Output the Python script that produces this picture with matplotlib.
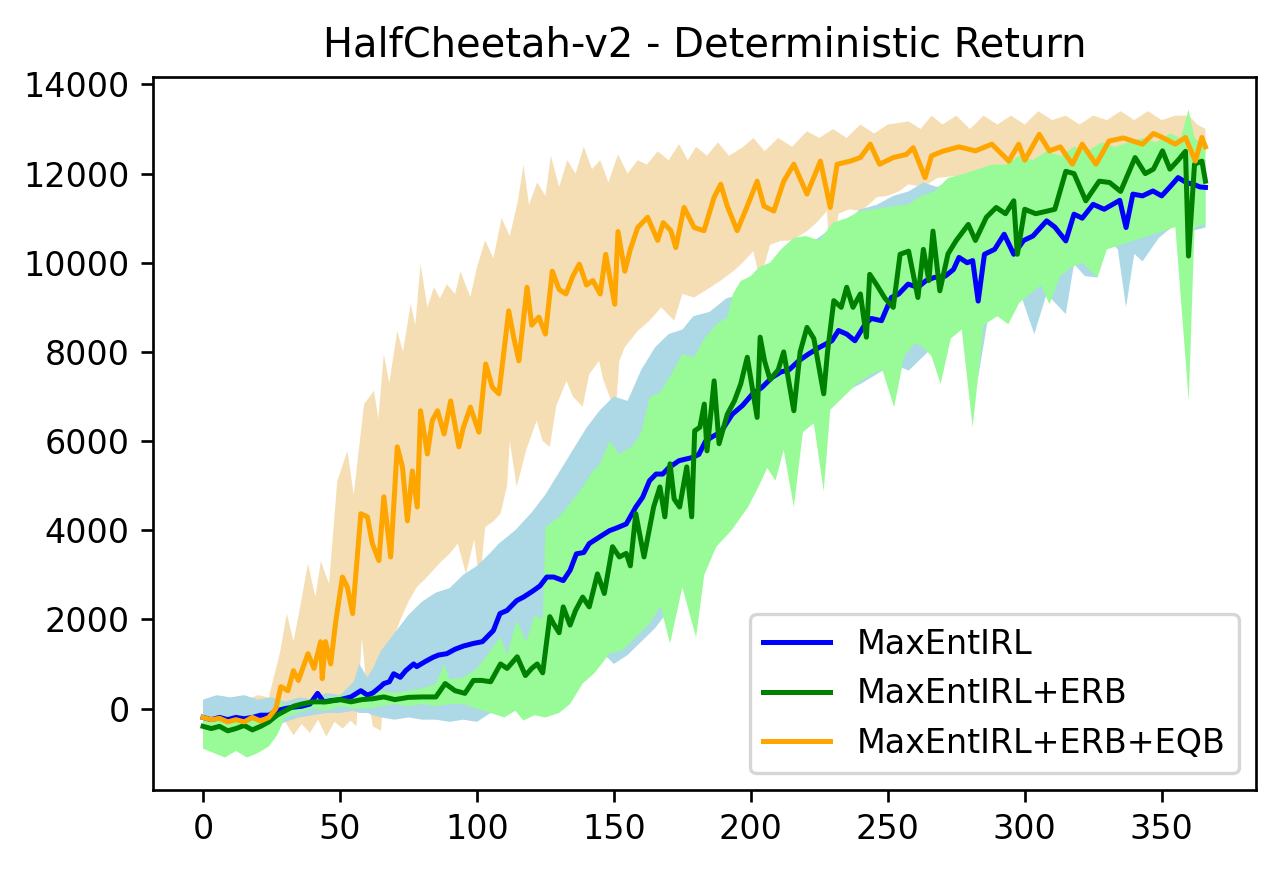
import numpy as np
from matplotlib import pyplot as plt

# ---- MaxEntIRL (blue) ----
x_irl = [0, 3, 6, 9, 12, 15, 18, 21, 24, 27, 30, 33, 36, 39, 41.8, 44, 47, 50, 54, 57.6, 60, 62, 64.8,
         66, 68, 69.6, 72, 74, 76.9, 78, 81, 84, 86, 89, 92, 95, 98.7, 102, 106, 108.4, 111, 114.5, 117,
         120.5, 123, 125.5, 128, 131.5, 134, 136.3, 139, 141, 144.8, 148.4, 151, 154.5, 158, 160.5, 163,
         165.4, 167.8, 170, 173.8, 178.6, 181, 183.5, 186, 189, 193.2, 197, 200.5, 204, 207.8, 211, 214,
         217.5, 221, 225, 229.6, 232, 235, 238, 241.7, 244, 247.7, 251.3, 254, 257.4, 261, 264, 267, 271,
         274, 276, 279, 281, 283, 285.3, 289, 292.5, 296, 299.6, 303, 308, 311, 315, 318, 321, 325, 329,
         334.7, 337, 339.5, 343, 346.8, 350, 353, 356, 359, 362, 364, 366]
m_irl = [-200, -250, -200, -250, -200, -230, -200, -150, -150, -50, 0, 30, 50, 100, 340, 150, 180, 200,
         260, 400, 300, 350, 490, 560, 600, 780, 700, 850, 1000, 940, 1050, 1150, 1200, 1230, 1330, 1400,
         1460, 1500, 1750, 2130, 2200, 2420, 2500, 2640, 2750, 2950, 2950, 2870, 3100, 3470, 3500, 3700,
         3850, 3990, 4050, 4140, 4520, 4740, 5110, 5260, 5260, 5400, 5560, 5630, 5700, 6000, 6100, 6200,
         6600, 6800, 7050, 7200, 7430, 7550, 7600, 7800, 7950, 8100, 8250, 8480, 8400, 8250, 8620, 8750,
         8700, 9220, 9300, 9520, 9450, 9600, 9670, 9700, 9850, 10120, 10000, 10050, 9140, 10190, 10300,
         10640, 10190, 10500, 10600, 10940, 10800, 10490, 11090, 11000, 11310, 11200, 11400, 10790, 11540,
         11500, 11610, 11500, 11700, 11910, 11800, 11750, 11700, 11690]

xb_irl = [0, 5, 10, 15, 20, 25, 30, 35, 40, 45, 50, 55, 57, 60, 62, 65, 70, 75, 80, 85, 90, 95, 100,
          105, 108, 110, 114, 120, 125, 130, 135, 140, 145, 150, 155, 160, 165, 170, 175, 179, 185, 191,
          197, 203, 209, 215.7, 221, 227.8, 234, 240, 246, 252, 257.6, 263, 268, 275, 280, 283, 287, 294,
          299, 303.5, 308, 315, 318, 322, 326.5, 330.8, 334, 337, 340, 343, 349, 355, 360, 366]
hi_irl = [200, 300, 250, 300, 200, 250, 150, 250, 200, 350, 300, 600, 1000, 700, 900, 1300, 1700, 2100,
          2400, 2600, 2700, 3000, 3200, 3500, 3700, 3800, 4000, 4400, 4800, 5300, 5800, 6300, 6700, 7000,
          6900, 7600, 8100, 8400, 8500, 8800, 8900, 9200, 9300, 9900, 10000, 10300, 10400, 10700, 10900,
          11200, 11300, 11500, 11600, 11800, 11700, 11900, 11900, 12000, 12100, 12200, 12100, 12300,
          12200, 12400, 12300, 12500, 12400, 12400, 12500, 12300, 12600, 12400, 12500, 12400, 12400, 12300]
lo_irl = [-700, -600, -650, -550, -600, -450, -300, -200, -150, -100, -100, -50, -100, -100, -150, -200,
          -250, -200, -250, -250, -300, -250, -300, -100, 180, 300, 560, 800, 1100, 1300, 1500, 1300, 1300,
          1000, 1200, 1500, 1800, 2200, 2800, 3250, 3700, 4440, 4800, 5490, 5700, 6090, 6500, 6990, 7100,
          7280, 7500, 7730, 7580, 7900, 8200, 8920, 8700, 7430, 8900, 9300, 9200, 8400, 9300, 8850, 9970,
          9700, 9670, 10490, 10300, 9000, 10200, 10030, 10560, 10860, 10700, 10790]

# ---- MaxEntIRL+ERB (green) ----
x_erb = [0, 3, 6, 9, 12, 15, 18, 21, 24, 27, 30, 33, 36, 40, 45, 50, 54, 58, 62, 66, 70, 75, 80, 85,
         88.4, 92, 95.6, 98.7, 101.7, 105, 108.6, 111, 114.7, 117.7, 120, 122, 124, 126.6, 128, 130,
         131.5, 134, 136, 138.6, 141, 144, 146.5, 149.5, 152, 154.5, 156, 158, 161, 164.5, 166.8, 168.6,
         170.5, 172, 174, 176.6, 178.4, 179.5, 181.4, 183, 184, 186.6, 188.4, 191.4, 194, 196.3, 198.7,
         200.5, 202.3, 203.4, 205, 207, 210, 212, 215.7, 218, 220.5, 223, 226.6, 228, 230.3, 233, 235,
         237.3, 240, 242.2, 243.4, 246, 249, 252, 254.5, 257.6, 261, 263, 265, 266.5, 269, 272, 275, 279.4,
         282, 286, 289.6, 293, 296, 297.3, 300, 304, 307.6, 311, 315, 318, 322.3, 327.2, 331, 335, 340.3,
         344, 347, 350.3, 353, 356, 358.7, 359.8, 362, 364.7, 366]
m_erb = [-400, -450, -400, -500, -450, -380, -480, -400, -300, -150, -50, 50, 100, 150, 150, 200, 150,
         200, 220, 260, 200, 250, 260, 260, 560, 400, 340, 630, 630, 600, 1000, 900, 1160, 740, 900, 1000,
         800, 2060, 1900, 1700, 2280, 1870, 2200, 2500, 2280, 3020, 2580, 3630, 3400, 3480, 3200, 4370,
         3400, 4520, 4970, 4300, 5490, 4700, 4520, 5420, 4300, 6230, 6310, 6830, 5780, 7350, 5940, 6600,
         6900, 7280, 7880, 7200, 6530, 8330, 7800, 7380, 7600, 8000, 6680, 8000, 8550, 8300, 7060, 8000,
         9150, 9000, 9450, 9000, 9300, 8330, 9740, 9500, 9200, 9000, 10190, 10260, 9220, 10300, 9600,
         10710, 9370, 10200, 10500, 10860, 10500, 11020, 11240, 11100, 11390, 10190, 11200, 11100, 11150,
         11200, 12050, 12000, 11390, 11830, 11800, 11600, 12360, 12000, 12100, 12510, 12100, 12300, 12500,
         10150, 12210, 12280, 11830]

xu_erb = [0, 5, 10, 15, 20, 25, 28, 30, 35, 40, 45, 50, 55, 60, 65, 70, 75, 80, 85, 88, 90, 95, 100,
          105, 108.6, 111, 114.5, 118, 121, 124, 125, 130, 134, 138.6, 142, 145, 148.4, 152, 157, 160,
          163, 167, 170, 175, 179.3, 183, 187.4, 191.4, 193.5, 196.3, 200, 203, 207, 211, 215.7, 220, 225,
          230, 235, 240, 245, 250, 257.6, 262, 267, 272, 278, 283, 288, 293, 298, 303, 308, 313, 318, 323,
          328, 333, 338, 343, 348, 353, 357, 359.8, 362, 366]
hi_erb = [-200, -300, -200, -300, -250, -150, 200, 50, 150, 200, 250, 300, 300, 350, 400, 350, 400, 450,
          550, 1000, 650, 700, 900, 1300, 1600, 1200, 1980, 1500, 2100, 2000, 4070, 4300, 4600, 4970, 5300,
          5500, 6000, 5700, 5900, 6200, 6980, 7100, 7400, 7950, 7880, 8300, 8620, 8780, 9300, 9590, 9700,
          9900, 10000, 10300, 10560, 10600, 10500, 10900, 11000, 11160, 11200, 11250, 11310, 11500, 11600,
          11900, 12000, 12100, 12200, 12200, 12400, 12300, 12500, 12400, 12600, 12500, 12700, 12600,
          12700, 12800, 12700, 12900, 12800, 13440, 12800, 12600]
xl_erb = [0, 4, 8, 12, 16, 20, 24, 27, 30, 35, 40, 45, 50, 55, 60, 65, 70, 75, 80, 85, 90, 95, 100, 105,
          110, 114, 117, 121, 125, 130, 134, 138.6, 143, 148.4, 153, 158, 163, 167, 170.5, 175, 180, 183,
          187.4, 193, 199, 203, 206, 209, 212, 215.7, 219, 223, 226.6, 229, 234, 239, 244, 248, 252.3, 256,
          260, 263, 266, 269.3, 273, 277, 281, 285, 290, 294, 298, 302, 306, 309, 313, 317, 321, 326.5,
          330, 335, 340, 345, 350, 355, 359.9, 362, 366]
lo_erb = [-900, -1000, -1100, -950, -1100, -1000, -850, -600, -200, -100, 0, -50, 50, 0, 0, 50, 100, 50,
          100, 50, 100, 100, 0, -100, -200, -50, -270, -150, -200, -100, 100, 560, 800, 1230, 1300, 1600,
          1900, 2300, 1460, 2720, 1600, 3000, 3630, 4000, 4520, 5000, 5400, 5110, 5800, 4520, 6200, 6400,
          4880, 6700, 7000, 7300, 7500, 7600, 6760, 7900, 8200, 8100, 7900, 7280, 8300, 8500, 6310, 8600,
          8800, 8620, 9100, 9300, 9500, 9070, 9700, 9900, 10000, 9670, 10300, 10400, 10500, 10600, 10700,
          10800, 6900, 10800, 10860]

# ---- MaxEntIRL+ERB+EQB (orange) ----
x_eqb = [0, 3, 6, 9, 12, 15, 18, 21, 24, 26.6, 28.4, 31, 33, 34.8, 38.3, 40.5, 42.9, 43.5, 44.7, 46.6,
         48.5, 50.9, 52.7, 54.6, 57.6, 60, 61.8, 64.2, 66, 68.5, 70.9, 72.8, 74.6, 76.4, 78.2, 79.4, 81.9,
         83.7, 85.6, 88, 90.4, 93.4, 95, 97.6, 100.7, 103.2, 105.6, 108, 111.6, 113.5, 115.3, 118.3, 120,
         122.6, 125, 127.5, 130, 132.5, 135, 137.4, 140, 142.3, 145, 147, 150.3, 151.5, 154, 156, 158.7,
         162.3, 166, 168, 170.8, 172.6, 175.6, 179.3, 182.9, 186.6, 189, 191.4, 195, 198.7, 202.3, 204.8,
         208.4, 212, 215.7, 220.5, 225.4, 229, 231.5, 236.3, 240, 243.6, 247, 252, 256.8, 259.3, 263.6, 266,
         270, 276, 282, 288, 294.2, 297.8, 300, 305.3, 309, 313, 317.4, 321, 326, 330.8, 336, 343, 347,
         350.3, 355, 358.7, 362.3, 364.7, 366]
m_eqb = [-200, -250, -220, -300, -250, -300, -200, -280, -200, 0, 490, 400, 850, 630, 1230, 900, 1500, 670,
         1500, 1000, 1980, 2950, 2720, 2130, 4370, 4300, 3700, 3320, 4750, 3400, 5870, 5420, 4210, 5330,
         4520, 6680, 5710, 6460, 6680, 6160, 6900, 5870, 6300, 6760, 6200, 7730, 7210, 7060, 8920, 8300,
         7800, 9450, 8600, 8780, 8400, 9810, 9400, 9300, 9700, 9970, 9500, 9600, 9300, 10190, 9070, 10700,
         9810, 10300, 10790, 11020, 10500, 10900, 10720, 10340, 11240, 10790, 10720, 11470, 11760, 11270,
         10720, 11270, 11830, 11270, 11160, 11830, 12210, 11540, 12280, 11240, 12210, 12280, 12360, 12660,
         12210, 12360, 12430, 12580, 11910, 12400, 12500, 12600, 12510, 12660, 12280, 12660, 12300, 12880,
         12510, 12600, 12210, 12660, 12210, 12730, 12800, 12660, 12900, 12810, 12660, 12810, 12280, 12810,
         12600]

xu_eqb = [0, 4, 8, 12, 16, 20, 24, 28, 30.6, 33, 35, 38.3, 41, 43, 46, 49, 52.7, 55, 58.8, 62.4, 64, 66,
          68, 70.9, 73, 75.8, 77.5, 79.4, 81.9, 84.3, 86.5, 89, 92, 94, 97.6, 100, 103, 106, 109, 112, 115,
          117, 119, 122, 125, 127, 130, 133, 136, 139, 142, 145, 148, 151.5, 155, 158.7, 162, 166, 170,
          173.8, 177, 180, 184, 188, 192, 197, 201, 205, 210, 215, 220.5, 225, 230, 235, 240, 245, 250,
          257.6, 262, 266, 270, 275, 280, 285, 290, 295, 300, 305, 310, 315, 320, 325, 330, 335, 340, 345,
          350, 355, 360, 363, 366]
hi_eqb = [150, 200, 150, 250, 200, 300, 250, 1230, 2130, 1500, 2130, 3250, 2500, 3300, 2800, 5100, 5780,
          4800, 6830, 7130, 6500, 7950, 7300, 8470, 8000, 9070, 8600, 9970, 9000, 9450, 9200, 9520, 9300,
          9800, 9230, 9900, 10500, 10100, 11000, 10600, 11400, 12200, 11300, 11800, 11500, 12400, 11700,
          12300, 12000, 12600, 12100, 12300, 11800, 12430, 12000, 12300, 12200, 12500, 12300, 12660, 12300,
          12600, 12400, 12700, 12400, 12590, 12800, 12500, 12800, 12600, 12950, 12800, 13000, 12800, 13100,
          12900, 13100, 13170, 13000, 13300, 13100, 13300, 13000, 13300, 13100, 13300, 13100, 13400, 13200,
          13300, 13100, 13300, 13200, 13400, 13200, 13400, 13200, 13300, 13300, 13100, 13000]
xl_eqb = [0, 4, 8, 12, 16, 20, 24, 27, 30, 33, 36, 39, 42, 45, 48, 51, 53.8, 56, 58, 60, 62, 65, 66.5,
          69, 72, 75, 78, 81, 84, 87, 90, 93, 96, 99, 101, 103, 106, 108.6, 111, 112, 114.5, 118, 121.8,
          124, 126.6, 129, 132.7, 135, 138.6, 141, 144.6, 146, 148.5, 150.3, 152, 154, 158.7, 163, 167.3,
          172, 175, 179.3, 185.3, 189, 193.6, 197, 200.9, 203.4, 207, 210.7, 215, 220.5, 224, 227.8, 229,
          232, 236, 240, 243, 246, 250, 254, 257.6, 263, 268, 275, 283, 290, 297, 304, 311, 318.6, 325,
          332, 340, 348, 355, 360, 366]
lo_eqb = [-700, -650, -750, -600, -700, -500, -450, -400, -300, -600, -350, -550, -250, -630, -300, -450,
          -270, -400, 1600, 300, -400, -500, 1230, 1500, 1980, 2400, 2720, 2900, 3100, 3300, 3470, 3700,
          3020, 3800, 2800, 4070, 4200, 4370, 5000, 6000, 4970, 5800, 6460, 6000, 5870, 6800, 7350, 7000,
          6770, 7500, 7800, 7400, 6990, 6380, 7800, 8110, 8470, 8700, 9000, 8700, 9300, 9220, 9450, 9600,
          9810, 10000, 10260, 9600, 10400, 10490, 10500, 10710, 10900, 11160, 9810, 11100, 11200, 11160,
          11300, 11470, 11500, 11600, 11760, 11700, 11900, 11950, 11850, 12000, 11950, 12100, 12000, 12130,
          12200, 12300, 12250, 12300, 12350, 12400, 12430]


def band(ax, xu, hi, xl, lo, color):
    # closed outline: upper edge left to right, lower edge back right to left
    ax.fill(np.concatenate([xu, xl[::-1]]), np.concatenate([hi, lo[::-1]]),
            color=color, linewidth=0)


fig = plt.figure(figsize=(5.333, 3.625), dpi=240)
ax = fig.add_axes([0.1195, 0.092, 0.8615, 0.8195])

# shaded bands first, mean curves on top
band(ax, xu_eqb, hi_eqb, xl_eqb, lo_eqb, 'wheat')
band(ax, xb_irl, hi_irl, xb_irl, lo_irl, 'lightblue')
band(ax, xu_erb, hi_erb, xl_erb, lo_erb, 'palegreen')
ax.plot(x_irl, m_irl, color='blue', linewidth=1.5, label='MaxEntIRL')
ax.plot(x_erb, m_erb, color='green', linewidth=1.5, label='MaxEntIRL+ERB')
ax.plot(x_eqb, m_eqb, color='orange', linewidth=1.5, label='MaxEntIRL+ERB+EQB')

ax.set_title('HalfCheetah-v2 - Deterministic Return')
ax.legend(loc='lower right')
fig.savefig('out.png')
